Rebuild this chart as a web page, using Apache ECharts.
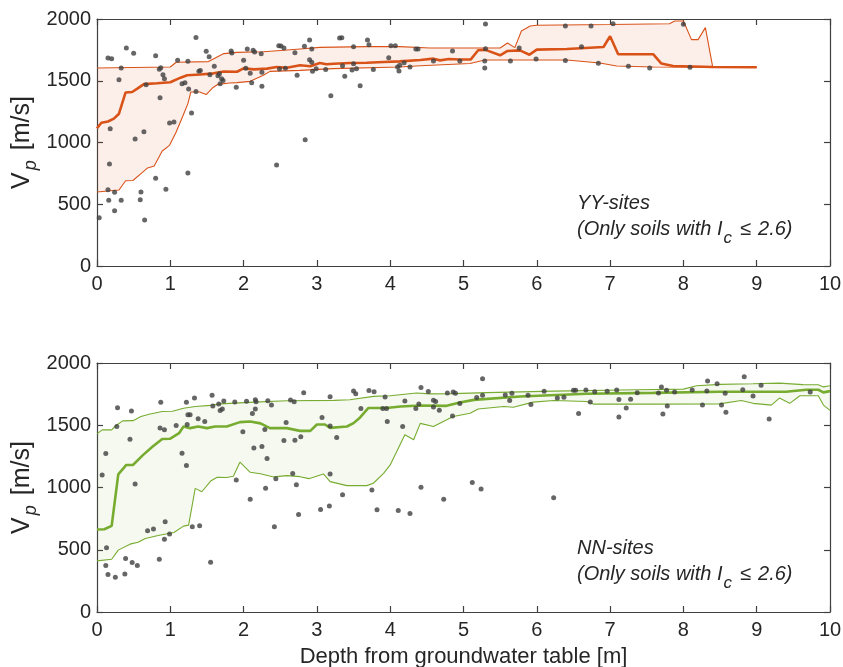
<!DOCTYPE html>
<html>
<head>
<meta charset="utf-8">
<script src="https://cdn.jsdelivr.net/npm/echarts@6/dist/echarts.min.js"></script>
<style>html,body{margin:0;padding:0;background:#fff}#c{width:843px;height:667px}</style>
</head>
<body>
<div id="c"></div>
<script>
// ---------- axis ticks ----------
const depthTicks = [0,1,2,3,4,5,6,7,8,9,10];
const vpTicks = [0,500,1000,1500,2000];

// ---------- YY-sites (top) scatter ----------
const yyDepth = [0.03,0.15,0.2,0.18,0.17,0.15,0.16,0.24,0.24,0.3,0.33,0.33,0.4,0.5,0.52,0.59,0.6,0.64,0.65,0.67,0.8,0.8,0.86,0.85,0.87,0.9,0.92,0.94,0.99,1.05,1.1,1.16,1.2,1.24,1.25,1.24,1.29,1.35,1.35,1.39,1.41,1.49,1.53,1.54,1.6,1.65,1.67,1.68,1.72,1.7,1.83,1.84,1.9,2.0,2.05,2.03,2.09,2.11,2.13,2.15,2.24,2.25,2.25,2.45,2.48,2.51,2.55,2.49,2.57,2.7,2.73,2.83,2.84,2.9,2.9,2.93,2.93,2.94,2.99,3.12,3.19,3.31,3.34,3.35,3.38,3.5,3.5,3.48,3.54,3.59,3.69,3.71,3.77,3.98,4.01,4.07,4.1,4.12,4.13,4.19,4.27,4.35,4.38,4.59,4.85,4.95,5.3,5.3,5.29,5.29,5.64,5.76,5.99,6.39,6.39,6.61,6.74,6.84,7.04,7.25,7.54,8.0,8.09];
const yyVp = [391,1684,1679,1112,826,618,532,597,448,1509,1603,532,1765,1722,1028,537,599,1088,372,1468,1703,710,1363,1593,1606,1549,1517,621,1158,1166,1665,1476,1484,1657,1433,753,1239,1851,1412,1576,1584,1738,1695,1549,1617,1541,1557,1476,1503,1517,1741,1725,1447,1665,1757,1601,1560,1484,1746,1733,1719,1568,1455,818,1784,1781,1765,1595,1601,1727,1544,1779,1023,1830,1671,1649,1757,1576,1598,1592,1379,1846,1849,1622,1536,1776,1638,1587,1598,1460,1830,1792,1592,1687,1784,1784,1611,1579,1625,1646,1611,1757,1757,1660,1741,1660,1960,1760,1660,1603,1660,1765,1676,1943,1663,1776,1943,1641,1962,1617,1603,1957,1609];

// YY bands
const yyUpX = [0,1.0,1.08,1.52,1.64,1.73,1.91,2.27,2.55,2.77,3.04,3.68,4.13,4.54,5.0,5.5,5.6,5.7,5.79,5.91,6.0,7.0,7.81,7.88,8.0,8.11,8.2,8.3,8.4,9.0];
const yyUpV = [1603,1611,1650,1655,1693,1720,1730,1735,1747,1757,1770,1776,1776,1765,1765,1765,1806,1768,1903,1943,1949,1955,1962,1984,1984,1833,1833,1930,1611,1609];
const yyMedX = [0,0.06,0.15,0.23,0.3,0.39,0.48,0.55,0.64,0.82,1.0,1.14,1.23,1.41,1.59,1.73,1.91,2.0,2.14,2.32,2.45,2.59,2.77,2.91,3.04,3.13,3.23,3.45,3.68,3.91,4.13,4.41,4.59,4.68,4.8,4.95,5.1,5.2,5.3,5.5,5.6,5.77,5.9,6.0,6.41,6.91,7.0,7.11,7.59,7.7,7.86,8.4,9.0];
const yyMedV = [1115,1160,1170,1193,1233,1405,1409,1436,1473,1480,1488,1525,1545,1550,1560,1575,1573,1600,1592,1598,1611,1605,1625,1617,1644,1633,1638,1644,1646,1652,1657,1668,1679,1665,1676,1672,1673,1747,1750,1706,1741,1746,1711,1752,1757,1773,1860,1714,1714,1639,1620,1611,1609];
const yyLoX = [0,0.3,0.39,0.49,0.6,0.69,0.78,0.89,0.99,1.08,1.17,1.24,1.28,1.4,1.49,1.58,1.65,1.81,1.91,2.09,2.27,2.36,2.77,3.22,4.13,4.41,5.09,5.29,6.41,6.86,7.09,7.59,8.4,9.0];
const yyLoV = [599,615,690,692,748,794,810,931,977,1085,1212,1315,1409,1409,1388,1444,1471,1482,1485,1495,1544,1576,1584,1598,1611,1622,1640,1668,1668,1644,1620,1611,1609,1609];

// ---------- NN-sites (bottom) scatter ----------
const nnDepth = [0.07,0.12,0.13,0.12,0.15,0.25,0.28,0.27,0.38,0.39,0.45,0.47,0.48,0.52,0.55,0.69,0.77,0.85,0.86,0.87,0.92,0.93,0.92,0.99,1.08,1.16,1.22,1.22,1.23,1.24,1.27,1.3,1.33,1.38,1.4,1.47,1.55,1.57,1.58,1.66,1.68,1.71,1.73,1.88,1.9,1.99,2.04,2.09,2.12,2.14,2.16,2.16,2.17,2.25,2.29,2.3,2.32,2.33,2.38,2.42,2.44,2.55,2.58,2.64,2.67,2.69,2.7,2.72,2.75,2.78,2.82,3.05,3.07,3.18,3.18,3.18,3.17,3.27,3.35,3.5,3.53,3.6,3.71,3.78,3.75,3.82,3.9,3.93,3.96,3.95,4.11,4.17,4.2,4.27,4.35,4.39,4.42,4.42,4.52,4.59,4.62,4.59,4.67,4.73,4.78,4.85,4.86,4.89,4.95,5.12,5.18,5.24,5.26,5.26,5.57,5.63,5.66,5.88,5.92,6.1,6.23,6.28,6.37,6.5,6.53,6.57,6.67,6.73,6.79,6.96,7.09,7.12,7.12,7.22,7.28,7.37,7.66,7.7,7.72,7.77,7.78,7.88,8.12,8.26,8.33,8.32,8.46,8.52,8.57,8.58,8.81,8.83,8.95,9.06,9.17,9.73];
const nnVp = [1101,1273,516,373,301,279,1641,1490,306,430,1388,1614,397,1028,373,652,666,424,1477,1684,1463,725,585,626,1498,1275,1176,1684,1506,1584,1584,685,1719,1552,693,1530,400,1740,1654,1670,1619,1630,1694,1686,1061,1447,1692,905,1595,1318,1705,1630,1689,1329,1466,993,1232,1697,1662,685,1071,1377,1522,1702,1112,1689,1380,1023,784,1407,1761,824,1563,1729,1493,1109,851,1402,942,1775,1753,1635,1780,1769,980,822,1635,1726,1530,1635,816,1490,1694,792,1635,1670,1804,1002,1772,1700,1690,1647,1620,906,1759,1575,1767,1757,1674,1040,1722,987,1874,1741,1743,1698,1757,1741,1666,1773,917,1719,1725,1781,1781,1594,1783,1687,1770,1773,1783,1567,1706,1639,1709,1762,1759,1808,1591,1781,1655,1767,1783,1663,1856,1775,1834,1663,1757,1604,1786,1890,1735,1821,1551,1767];

// NN bands
const nnUpX = [0,0.07,0.2,0.26,0.35,0.49,0.6,0.71,0.89,1.03,1.18,1.34,1.55,1.68,2.14,2.59,3.23,3.45,3.77,4.0,4.36,4.54,4.86,5.32,6.23,7.36,8.0,8.18,8.5,8.95,9.31,9.63,9.84,9.91,10];
const nnUpV = [1431,1463,1463,1498,1535,1537,1570,1589,1610,1612,1637,1651,1660,1672,1686,1697,1700,1705,1732,1737,1759,1752,1754,1762,1774,1785,1790,1817,1828,1833,1838,1826,1825,1808,1817];
const nnMedX = [0,0.1,0.2,0.29,0.4,0.49,0.63,0.76,0.89,1.0,1.12,1.18,1.27,1.38,1.5,1.61,1.77,1.95,2.09,2.23,2.36,2.59,2.77,2.91,3.0,3.11,3.18,3.41,3.5,3.59,3.7,3.95,4.14,4.41,4.77,4.95,5.14,5.77,6.68,7.59,8.49,9.4,9.68,9.84,9.91,10];
const nnMedV = [663,665,692,1106,1181,1181,1262,1329,1390,1392,1436,1490,1477,1490,1477,1490,1490,1525,1530,1515,1477,1477,1455,1455,1506,1506,1479,1490,1517,1563,1638,1638,1651,1659,1656,1682,1704,1731,1753,1760,1769,1769,1785,1785,1764,1774];
const nnLoX = [0,0.2,0.29,0.45,0.56,0.66,0.85,1.05,1.18,1.25,1.34,1.43,1.55,1.64,1.77,1.86,1.95,2.09,2.23,2.41,2.59,2.77,2.89,3.09,3.18,3.41,3.68,3.77,3.91,4.0,4.2,4.32,4.41,4.59,4.86,5.09,5.2,5.55,5.68,5.95,6.23,6.68,6.77,7.59,8.49,8.79,8.95,9.2,9.31,9.45,9.59,9.84,9.91,10];
const nnLoV = [411,424,497,545,560,591,617,639,690,698,993,966,1052,1082,1080,1090,1203,1122,1110,1085,1095,1087,1071,1109,1047,1015,1015,1034,1114,1181,1423,1383,1515,1490,1570,1597,1630,1651,1645,1686,1699,1691,1670,1670,1672,1699,1676,1662,1718,1676,1737,1737,1662,1619];

// ---------- colours ----------
const orange = '#D95319';
const green = '#77AC30';
const dotColor = '#404040';
const axisColor = '#404040';
const textColor = '#262626';

function zip(xs, ys) { return xs.map((x, i) => [x, ys[i]]); }

function band(ax, upX, upV, loX, loV, fill) {
  return {
    type: 'custom', xAxisIndex: ax, yAxisIndex: ax, silent: true, z: 1,
    data: [[upX[0], upV[0]]],
    renderItem: function (params, api) {
      const pts = [];
      for (let i = 0; i < upX.length; i++) pts.push(api.coord([upX[i], upV[i]]));
      for (let i = loX.length - 1; i >= 0; i--) pts.push(api.coord([loX[i], loV[i]]));
      return { type: 'polygon', shape: { points: pts }, style: { fill: fill } };
    }
  };
}
function line(ax, xs, vs, color, width) {
  return { type: 'line', xAxisIndex: ax, yAxisIndex: ax, data: zip(xs, vs), showSymbol: false, symbol: 'none',
    lineStyle: { color: color, width: width }, z: 3, silent: true, animation: false };
}
function dots(ax, xs, vs) {
  return { type: 'scatter', xAxisIndex: ax, yAxisIndex: ax, data: zip(xs, vs), symbolSize: 5,
    itemStyle: { color: dotColor }, z: 4, silent: true };
}

const font = 'Liberation Sans, Arial, sans-serif';
const plain = function (v) { return String(v); };

function xAxisMain(grid, showName) {
  return {
    type: 'value', gridIndex: grid, min: depthTicks[0], max: depthTicks[depthTicks.length - 1], interval: 1,
    position: 'bottom',
    axisLine: { show: true, onZero: false, lineStyle: { color: axisColor, width: 1.2 } },
    axisTick: { show: true, inside: true, length: 6, lineStyle: { color: axisColor, width: 1.2 } },
    axisLabel: { color: textColor, fontSize: 20, fontFamily: font, margin: 8, formatter: plain },
    splitLine: { show: false },
    name: showName ? 'Depth from groundwater table [m]' : '',
    nameLocation: 'middle', nameGap: 34,
    nameTextStyle: { color: textColor, fontSize: 22, fontFamily: font }
  };
}
function xAxisTop(grid) {
  return {
    type: 'value', gridIndex: grid, min: 0, max: 10, interval: 1, position: 'top',
    axisLine: { show: true, onZero: false, lineStyle: { color: axisColor, width: 1.2 } },
    axisTick: { show: true, inside: true, length: 6, lineStyle: { color: axisColor, width: 1.2 } },
    axisLabel: { show: false }, splitLine: { show: false }
  };
}
function yAxisMain(grid) {
  return {
    type: 'value', gridIndex: grid, min: vpTicks[0], max: vpTicks[vpTicks.length - 1], interval: 500,
    position: 'left',
    axisLine: { show: true, onZero: false, lineStyle: { color: axisColor, width: 1.2 } },
    axisTick: { show: true, inside: true, length: 6, lineStyle: { color: axisColor, width: 1.2 } },
    axisLabel: { color: textColor, fontSize: 20, fontFamily: font, margin: 6, formatter: plain },
    splitLine: { show: false },
    name: '{v|V}{p|p}{v| [m/s]}', nameLocation: 'middle', nameGap: 57, nameMoveOverlap: false,
    nameTextStyle: {
      color: textColor, fontFamily: font,
      rich: {
        v: { fontSize: 25, color: textColor, fontFamily: font },
        p: { fontSize: 18, color: textColor, fontFamily: font, fontStyle: 'italic', padding: [17, 3, 0, 2] }
      }
    }
  };
}
function yAxisRight(grid) {
  return {
    type: 'value', gridIndex: grid, min: 0, max: 2000, interval: 500, position: 'right',
    axisLine: { show: true, onZero: false, lineStyle: { color: axisColor, width: 1.2 } },
    axisTick: { show: true, inside: true, length: 6, lineStyle: { color: axisColor, width: 1.2 } },
    axisLabel: { show: false }, splitLine: { show: false }
  };
}

const richNote = {
  t: { fontSize: 20, fontFamily: font, fontStyle: 'italic', color: textColor },
  n: { fontSize: 20, fontFamily: font, color: textColor, padding: [0, 7, 0, 7] },
  s: { fontSize: 17, fontFamily: font, fontStyle: 'italic', color: textColor, padding: [18, 1, 0, 1] }
};
function note(left, top, title) {
  return {
    type: 'text', left: left, top: top, silent: true,
    style: {
      text: '{t|' + title + '}\n{t|(Only soils with I}{s|c}{n|≤}{t|2.6)}',
      rich: richNote, lineHeight: 26, fill: textColor
    }
  };
}

const chart = echarts.init(document.getElementById('c'), null, { renderer: 'canvas' });
chart.setOption({
  animation: false,
  backgroundColor: '#ffffff',
  grid: [
    { left: 97, top: 19, width: 733, height: 247, outerBoundsMode: 'none', containLabel: false },
    { left: 97, top: 363, width: 733, height: 249, outerBoundsMode: 'none', containLabel: false }
  ],
  xAxis: [xAxisMain(0, false), xAxisMain(1, true), xAxisTop(0), xAxisTop(1)],
  yAxis: [yAxisMain(0), yAxisMain(1), yAxisRight(0), yAxisRight(1)],
  graphic: [note(577, 190, 'YY-sites'), note(577, 535, 'NN-sites')],
  series: [
    band(0, yyUpX, yyUpV, yyLoX, yyLoV, 'rgba(217,83,25,0.09)'),
    line(0, yyUpX, yyUpV, orange, 1.1),
    line(0, yyLoX, yyLoV, orange, 1.1),
    line(0, yyMedX, yyMedV, orange, 2.6),
    dots(0, yyDepth, yyVp),
    band(1, nnUpX, nnUpV, nnLoX, nnLoV, 'rgba(119,172,48,0.07)'),
    line(1, nnUpX, nnUpV, green, 1.1),
    line(1, nnLoX, nnLoV, green, 1.1),
    line(1, nnMedX, nnMedV, green, 2.6),
    dots(1, nnDepth, nnVp)
  ]
});
</script>
</body>
</html>
